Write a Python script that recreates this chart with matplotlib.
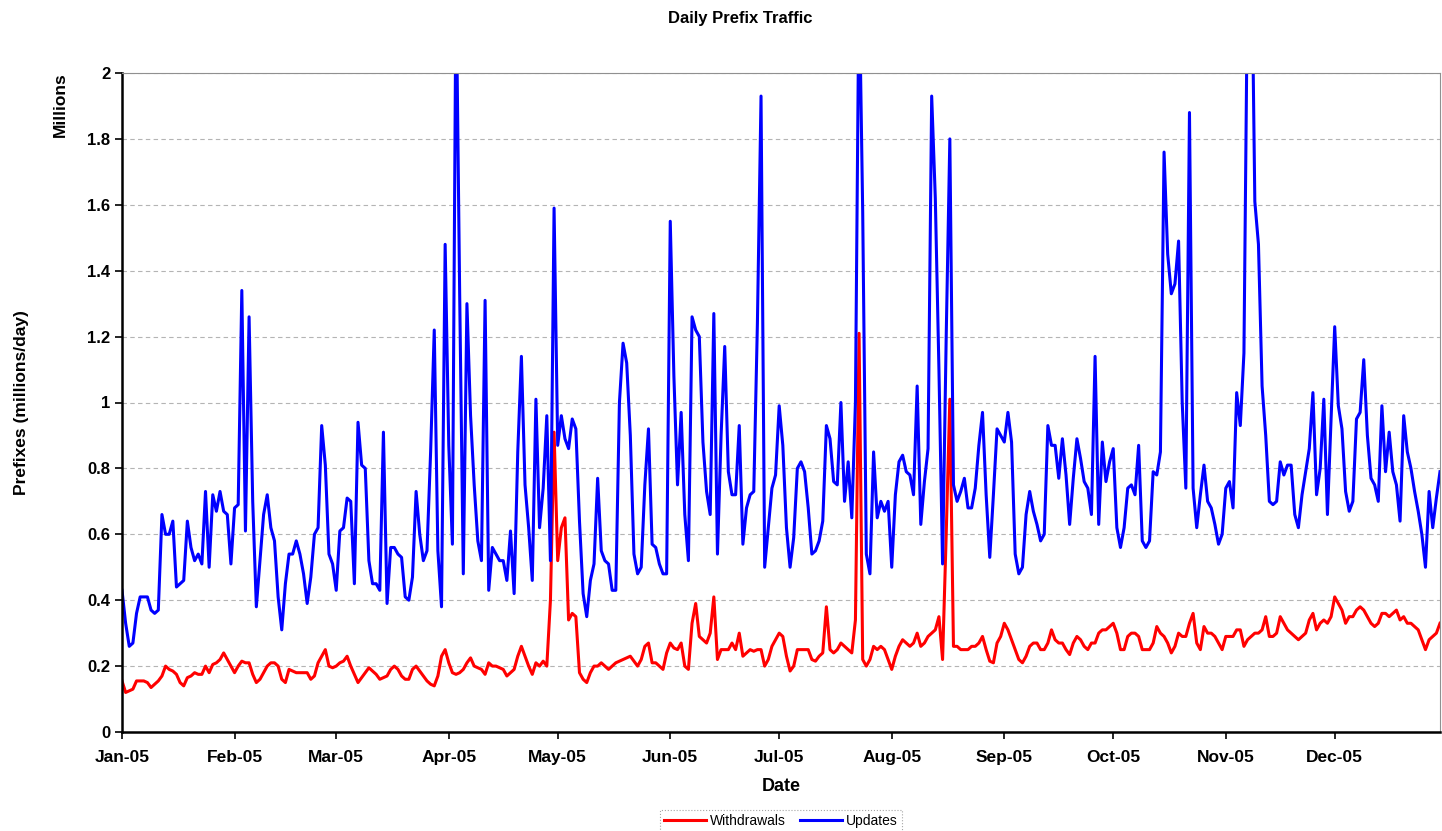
import matplotlib
matplotlib.use('Agg')
import matplotlib.pyplot as plt
import matplotlib.dates as mdates
import pandas as pd

# Daily prefix counts, millions/day, 1 Jan 2005 .. 30 Dec 2005 (one row per month)
updates = [
    0.43, 0.33, 0.26, 0.27, 0.36, 0.41, 0.41, 0.41, 0.37, 0.36, 0.37, 0.66, 0.60, 0.60, 0.64, 0.44,
    0.45, 0.46, 0.64, 0.56, 0.52, 0.54, 0.51, 0.73, 0.50, 0.72, 0.67, 0.73, 0.67, 0.66, 0.51,
    0.68, 0.69, 1.34, 0.61, 1.26, 0.70, 0.38, 0.52, 0.66, 0.72, 0.62, 0.58, 0.41, 0.31,
    0.45, 0.54, 0.54, 0.58, 0.54, 0.48, 0.39, 0.47, 0.60, 0.62, 0.93, 0.81, 0.54, 0.51,
    0.43, 0.61, 0.62, 0.71, 0.70, 0.45, 0.94, 0.81, 0.80, 0.52, 0.45, 0.45, 0.43, 0.91, 0.39, 0.56,
    0.56, 0.54, 0.53, 0.41, 0.40, 0.47, 0.73, 0.60, 0.52, 0.55, 0.85, 1.22, 0.55, 0.38, 1.48,
    0.87, 0.57, 2.30, 1.33, 0.48, 1.30, 0.96, 0.75, 0.58, 0.52, 1.31, 0.43, 0.56, 0.54, 0.52,
    0.52, 0.46, 0.61, 0.42, 0.85, 1.14, 0.75, 0.62, 0.46, 1.01, 0.62, 0.74, 0.96, 0.52, 1.59,
    0.87, 0.96, 0.89, 0.86, 0.95, 0.92, 0.64, 0.42, 0.35, 0.46, 0.51, 0.77, 0.55, 0.52, 0.51, 0.43,
    0.43, 1.00, 1.18, 1.12, 0.90, 0.54, 0.48, 0.50, 0.75, 0.92, 0.57, 0.56, 0.51, 0.48, 0.48,
    1.55, 1.08, 0.75, 0.97, 0.66, 0.52, 1.26, 1.22, 1.20, 0.88, 0.73, 0.66, 1.27, 0.54, 0.90,
    1.17, 0.79, 0.72, 0.72, 0.93, 0.57, 0.68, 0.72, 0.73, 1.24, 1.93, 0.50, 0.62, 0.74, 0.78,
    0.99, 0.87, 0.62, 0.50, 0.59, 0.80, 0.82, 0.79, 0.68, 0.54, 0.55, 0.58, 0.64, 0.93, 0.89, 0.76,
    0.75, 1.00, 0.70, 0.82, 0.65, 1.00, 2.30, 1.58, 0.54, 0.48, 0.85, 0.65, 0.70, 0.67, 0.70,
    0.50, 0.72, 0.82, 0.84, 0.79, 0.78, 0.72, 1.05, 0.63, 0.76, 0.86, 1.93, 1.62, 1.10, 0.51, 1.20,
    1.80, 0.75, 0.70, 0.73, 0.77, 0.68, 0.68, 0.74, 0.87, 0.97, 0.72, 0.53, 0.72, 0.92, 0.90,
    0.88, 0.97, 0.88, 0.54, 0.48, 0.50, 0.66, 0.73, 0.67, 0.63, 0.58, 0.60, 0.93, 0.87, 0.87,
    0.77, 0.89, 0.78, 0.63, 0.77, 0.89, 0.83, 0.76, 0.74, 0.66, 1.14, 0.63, 0.88, 0.76, 0.82,
    0.86, 0.62, 0.56, 0.62, 0.74, 0.75, 0.72, 0.87, 0.58, 0.56, 0.58, 0.79, 0.78, 0.85, 1.76, 1.45,
    1.33, 1.36, 1.49, 1.00, 0.74, 1.88, 0.74, 0.62, 0.72, 0.81, 0.70, 0.68, 0.63, 0.57, 0.60,
    0.74, 0.76, 0.68, 1.03, 0.93, 1.15, 2.30, 2.50, 1.61, 1.48, 1.05, 0.90, 0.70, 0.69, 0.70,
    0.82, 0.78, 0.81, 0.81, 0.66, 0.62, 0.72, 0.79, 0.86, 1.03, 0.72, 0.80, 1.01, 0.66, 0.95,
    1.23, 0.99, 0.92, 0.73, 0.67, 0.70, 0.95, 0.97, 1.13, 0.90, 0.77, 0.75, 0.70, 0.99, 0.79,
    0.91, 0.79, 0.75, 0.64, 0.96, 0.85, 0.80, 0.73, 0.67, 0.60, 0.50, 0.73, 0.62, 0.71, 0.79,
]

withdrawals = [
    0.155, 0.12, 0.125, 0.13, 0.155, 0.155, 0.155, 0.15, 0.135, 0.145, 0.155, 0.17, 0.20, 0.19, 0.185, 0.175,
    0.15, 0.14, 0.165, 0.17, 0.18, 0.175, 0.175, 0.20, 0.18, 0.205, 0.21, 0.22, 0.24, 0.22, 0.20,
    0.18, 0.20, 0.215, 0.21, 0.21, 0.175, 0.15, 0.16, 0.18, 0.20, 0.21, 0.21, 0.20, 0.16,
    0.15, 0.19, 0.185, 0.18, 0.18, 0.18, 0.18, 0.16, 0.17, 0.21, 0.23, 0.25, 0.20, 0.195,
    0.20, 0.21, 0.215, 0.23, 0.20, 0.175, 0.15, 0.165, 0.18, 0.195, 0.185, 0.175, 0.16, 0.165, 0.17, 0.19,
    0.20, 0.19, 0.17, 0.16, 0.16, 0.19, 0.20, 0.185, 0.17, 0.155, 0.145, 0.14, 0.17, 0.23, 0.25,
    0.21, 0.18, 0.175, 0.18, 0.19, 0.21, 0.225, 0.20, 0.195, 0.19, 0.175, 0.21, 0.20, 0.20, 0.195,
    0.19, 0.17, 0.18, 0.19, 0.23, 0.26, 0.23, 0.20, 0.175, 0.21, 0.20, 0.215, 0.20, 0.40, 0.91,
    0.52, 0.62, 0.65, 0.34, 0.36, 0.35, 0.18, 0.16, 0.15, 0.18, 0.20, 0.20, 0.21, 0.20, 0.19, 0.20,
    0.21, 0.215, 0.22, 0.225, 0.23, 0.215, 0.20, 0.22, 0.26, 0.27, 0.21, 0.21, 0.20, 0.19, 0.24,
    0.27, 0.255, 0.25, 0.27, 0.20, 0.19, 0.33, 0.39, 0.29, 0.28, 0.27, 0.30, 0.41, 0.22, 0.25,
    0.25, 0.25, 0.27, 0.25, 0.30, 0.23, 0.24, 0.25, 0.245, 0.25, 0.25, 0.20, 0.22, 0.26, 0.28,
    0.30, 0.29, 0.23, 0.185, 0.20, 0.25, 0.25, 0.25, 0.25, 0.22, 0.215, 0.23, 0.24, 0.38, 0.25, 0.24,
    0.25, 0.27, 0.26, 0.25, 0.24, 0.34, 1.21, 0.22, 0.20, 0.22, 0.26, 0.25, 0.26, 0.25, 0.22,
    0.19, 0.23, 0.26, 0.28, 0.27, 0.26, 0.27, 0.30, 0.26, 0.27, 0.29, 0.30, 0.31, 0.35, 0.22, 0.60,
    1.01, 0.26, 0.26, 0.25, 0.25, 0.25, 0.26, 0.26, 0.27, 0.29, 0.25, 0.215, 0.21, 0.27, 0.29,
    0.33, 0.31, 0.28, 0.25, 0.22, 0.21, 0.23, 0.26, 0.27, 0.27, 0.25, 0.25, 0.27, 0.31, 0.28,
    0.27, 0.27, 0.25, 0.235, 0.27, 0.29, 0.28, 0.26, 0.25, 0.27, 0.27, 0.30, 0.31, 0.31, 0.32,
    0.33, 0.30, 0.25, 0.25, 0.29, 0.30, 0.30, 0.29, 0.25, 0.25, 0.25, 0.27, 0.32, 0.30, 0.29, 0.27,
    0.24, 0.26, 0.30, 0.29, 0.29, 0.33, 0.36, 0.27, 0.25, 0.32, 0.30, 0.30, 0.29, 0.27, 0.25,
    0.29, 0.29, 0.29, 0.31, 0.31, 0.26, 0.28, 0.29, 0.30, 0.30, 0.31, 0.35, 0.29, 0.29, 0.30,
    0.35, 0.33, 0.31, 0.30, 0.29, 0.28, 0.29, 0.30, 0.34, 0.36, 0.31, 0.33, 0.34, 0.33, 0.35,
    0.41, 0.39, 0.37, 0.33, 0.35, 0.35, 0.37, 0.38, 0.37, 0.35, 0.33, 0.32, 0.33, 0.36, 0.36,
    0.35, 0.36, 0.37, 0.34, 0.35, 0.33, 0.33, 0.32, 0.31, 0.28, 0.25, 0.28, 0.29, 0.30, 0.33,
]

dates = pd.date_range('2005-01-01', periods=len(updates), freq='D')
y_ticks = [0, 0.2, 0.4, 0.6, 0.8, 1, 1.2, 1.4, 1.6, 1.8, 2]

plt.rcParams['font.family'] = ['Liberation Sans', 'DejaVu Sans']

fig = plt.figure(figsize=(14.42, 8.31), dpi=100)
ax = fig.add_axes([122 / 1442, 1 - 732 / 831, 1318 / 1442, 659 / 831])

ax.plot(dates, withdrawals, color='#ff0000', linewidth=2.2, label='Withdrawals')
ax.plot(dates, updates, color='#0000ff', linewidth=2.2, label='Updates')

ax.set_xlim(dates[0], dates[-1])
ax.set_ylim(0, 2)
ax.set_yticks(y_ticks)
ax.set_yticklabels([f'{t:g}' for t in y_ticks], fontsize=12, fontweight='bold')
ax.xaxis.set_major_locator(mdates.MonthLocator())
ax.xaxis.set_major_formatter(mdates.DateFormatter('%b-%y'))
for lbl in ax.get_xticklabels():
    lbl.set_fontsize(12.5)
    lbl.set_fontweight('bold')
ax.tick_params(axis='both', direction='out', length=5, width=1.2, colors='black')
ax.tick_params(axis='x', pad=8)

ax.grid(axis='y', color='#b4b4b4', linestyle=(0, (4, 3)), linewidth=0.8)
ax.set_axisbelow(True)
for side in ('left', 'bottom'):
    ax.spines[side].set_linewidth(1.8)
    ax.spines[side].set_color('black')
for side in ('top', 'right'):
    ax.spines[side].set_linewidth(0.8)
    ax.spines[side].set_color('#909090')

ax.set_xlabel('Date', fontsize=13, fontweight='bold', labelpad=9)
fig.text(22 / 1442, 1 - 403 / 831, 'Prefixes (millions/day)', rotation=90,
         ha='center', va='center', fontsize=12.5, fontweight='bold')
fig.text(60 / 1442, 1 - 105 / 831, 'Millions', rotation=90,
         ha='center', va='center', fontsize=12.5, fontweight='bold')
fig.text(740 / 1442, 1 - 18 / 831, 'Daily Prefix Traffic',
         ha='center', va='center', fontsize=12, fontweight='bold')

leg = fig.legend(loc='center', bbox_to_anchor=(781 / 1442, 1 - 821 / 831), ncol=2,
                 fontsize=10, frameon=True, fancybox=False, handlelength=3.0,
                 handletextpad=0.3, columnspacing=1.0, borderpad=0.3)
leg.get_frame().set_edgecolor('#909090')
leg.get_frame().set_linestyle(':')
leg.get_frame().set_linewidth(0.8)

fig.savefig('out.png', dpi=100)
